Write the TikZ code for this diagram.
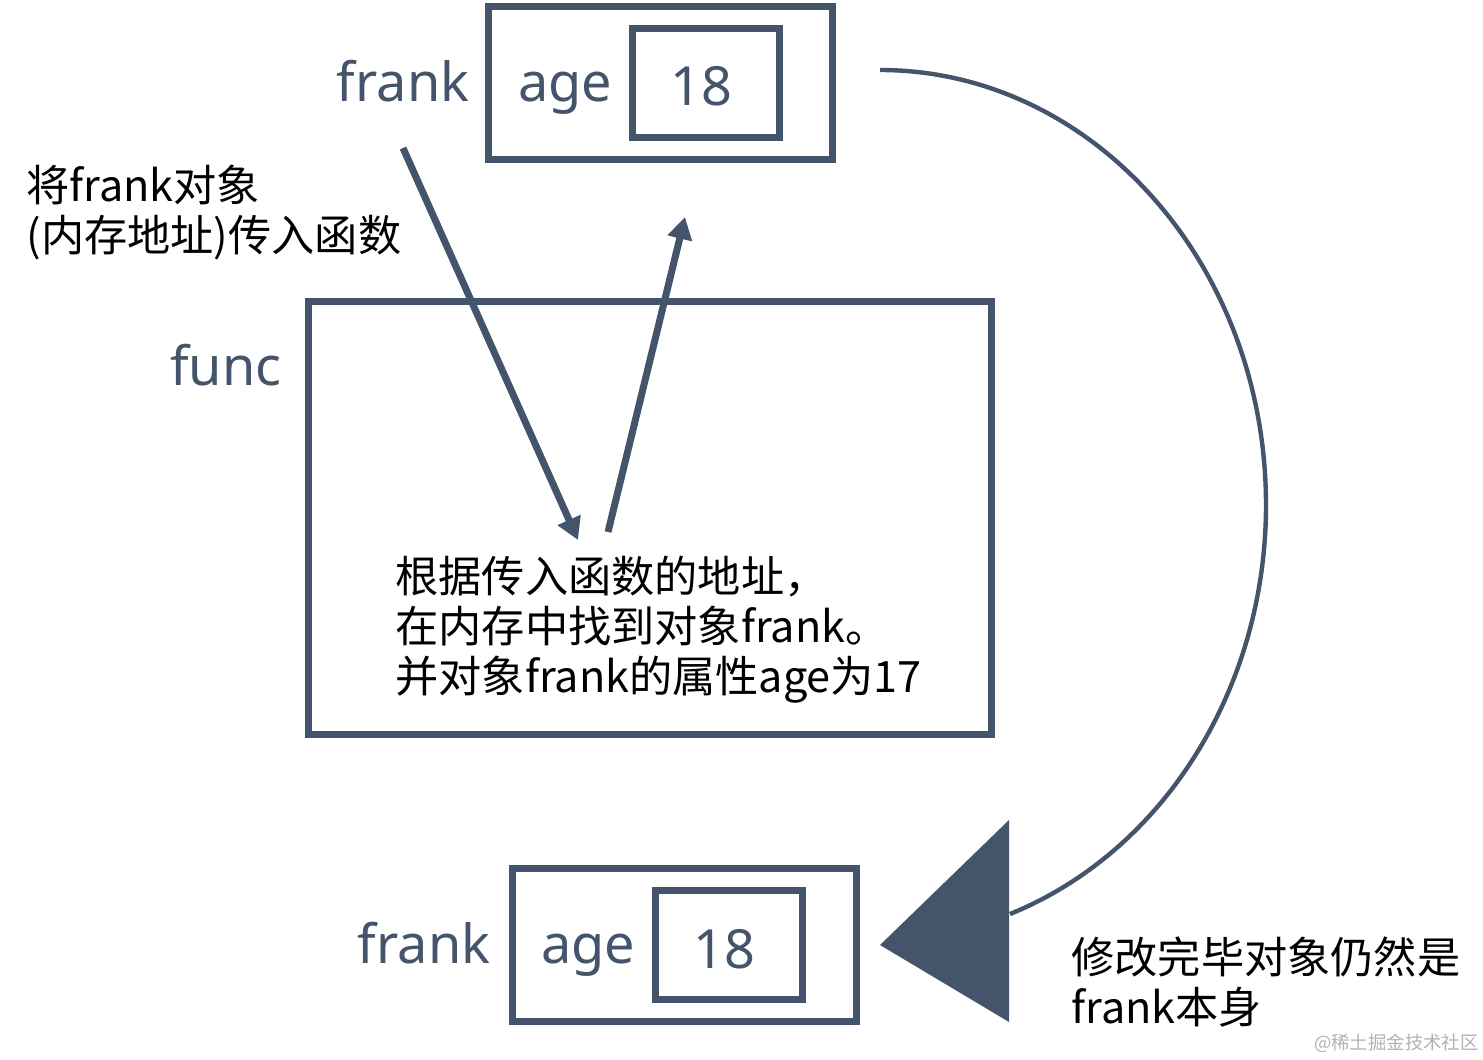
\documentclass[tikz,border=0pt]{standalone}
\usepackage{fontspec}
\setmainfont{Noto Sans}
\newfontfamily\cjk{Noto Sans CJK SC}
\usetikzlibrary{arrows.meta, positioning}
\definecolor{slate}{HTML}{44546A}

\begin{document}
\begin{tikzpicture}[
    x=0.5pt, y=-0.5pt,
    obj/.style={draw=slate, line width=3.5pt, minimum width=172pt, minimum height=76.5pt, inner sep=0pt},
    val/.style={draw=slate, line width=3.5pt, minimum width=73.5pt, minimum height=54.5pt, inner sep=0pt},
    lbl/.style={text=slate, font=\fontsize{27}{30}\selectfont, inner sep=0pt, anchor=base},
    note/.style={text=black, font=\cjk\fontsize{21.6}{25}\selectfont, align=left, inner sep=0pt, anchor=west},
    arrow/.style={draw=slate, line width=3.5pt, -{Triangle[length=11pt, width=12pt]}},
    loopline/.style={draw=slate, line width=2.2pt}
]
    \useasboundingbox (0,0) rectangle (1483,1060);

    % object before the call
    \node (objA) [obj] at (660.5,83) {};
    \node (valA) [val] at (706,83) {};
    \node (nameA) [lbl] at (403,101) {frank};
    \node (keyA) [lbl] at (565,101) {age};
    \node (numA) [lbl] at (701,105) {18};

    % function box
    \node (func) [draw=slate, line width=3.5pt, minimum width=341.5pt, minimum height=216.5pt] at (650,518) {};
    \node (funcname) [lbl] at (226,385) {func};
    \node (body) [note] at (395,630) {根据传入函数的地址，\\在内存中找到对象frank。\\并对象frank的属性age为17};

    % object after the call
    \node (objB) [obj] at (684,945) {};
    \node (valB) [val] at (728.5,944.5) {};
    \node (nameB) [lbl] at (424,963) {frank};
    \node (keyB) [lbl] at (588,963) {age};
    \node (numB) [lbl] at (724,968) {18};

    \node (pass) [note] at (26,213) {将frank对象\\(内存地址)传入函数};
    \node (same) [note] at (1071,982) {修改完毕对象仍然是\\frank本身};
    \node (mark) [text=black!30, font=\cjk\fontsize{9.2}{11}\selectfont, inner sep=0pt, anchor=east] at (1479,1043) {@稀土掘金技术社区};

    % in and out arrows
    \coordinate (inS) at (403,148);
    \coordinate (inE) at (578,540);
    \coordinate (outS) at (608,532);
    \coordinate (outE) at (685,217);
    \draw [arrow] (inS) -- (inE);
    \draw [arrow] (outS) -- (outE);

    % big return curve
    \coordinate (bS) at (880,70);
    \coordinate (bM) at (1266,505);
    \coordinate (bE) at (1010,914);
    \draw [loopline] (bS) .. controls (1093,70) and (1266,265) .. (bM)
        .. controls (1266,689) and (1163,852) .. (bE);
    \coordinate (tipL) at (880,945);
    \coordinate (tipT) at (1009,820);
    \coordinate (tipB) at (1009,1022);
    \fill [slate] (tipL) -- (tipT) -- (tipB) -- cycle;
\end{tikzpicture}
\end{document}
